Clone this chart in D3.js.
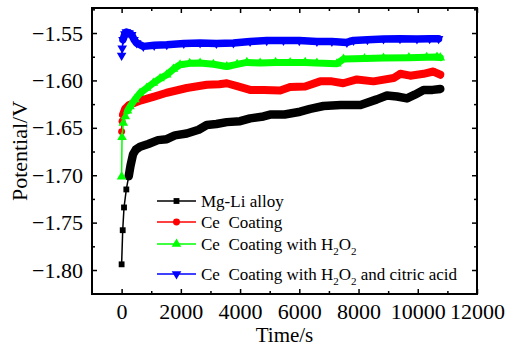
<!DOCTYPE html>
<html>
<head>
<meta charset="utf-8">
<script src="https://cdn.jsdelivr.net/npm/d3@7/dist/d3.min.js"></script>
<style>
	body { margin: 0; background: #fff; }
	svg text { font-family: "Liberation Serif", "Times New Roman", serif; fill: #000; }
</style>
</head>
<body>
<svg id="chart" width="506" height="356"></svg>
<script>
// data: [time s, potential V]
var alloyData = [[0, -1.794], [37, -1.758], [81, -1.734], [159, -1.715], [240, -1.701], [300, -1.690], [385, -1.678], [480, -1.673],
	[622, -1.670], [900, -1.667], [1230, -1.663], [1524, -1.662], [1800, -1.658], [2200, -1.656], [2600, -1.652], [2876, -1.647],
	[3200, -1.646], [3552, -1.644], [4000, -1.643], [4339, -1.640], [4789, -1.638], [5015, -1.636], [5500, -1.636], [6029, -1.633],
	[6367, -1.630], [6817, -1.627], [7400, -1.626], [8067, -1.626], [8621, -1.620], [8959, -1.616], [9300, -1.617], [9635, -1.619],
	[9900, -1.615], [10196, -1.610], [10500, -1.610], [10760, -1.609]];
var ceData = [[0, -1.654], [15, -1.643], [47, -1.636], [120, -1.630], [250, -1.626], [400, -1.624], [660, -1.621], [1100, -1.617],
	[1524, -1.613], [2200, -1.608], [2876, -1.6046], [3300, -1.604], [3552, -1.603], [3900, -1.606], [4339, -1.610], [4800, -1.610],
	[5353, -1.6106], [5690, -1.607], [6198, -1.6064], [6705, -1.601], [7100, -1.601], [7482, -1.603], [7945, -1.599], [8506, -1.601],
	[9182, -1.5975], [9409, -1.593], [9747, -1.595], [10196, -1.593], [10524, -1.5906], [10760, -1.594]];
var h2o2Data = [[0, -1.7015], [14, -1.660], [57, -1.645], [125, -1.638], [200, -1.632], [284, -1.6275], [450, -1.620], [622, -1.6134],
	[850, -1.608], [1071, -1.6028], [1300, -1.598], [1524, -1.594], [1750, -1.588], [1974, -1.5835], [2300, -1.582], [2650, -1.5817],
	[3100, -1.583], [3552, -1.5853], [3900, -1.583], [4228, -1.581], [4677, -1.5817], [5200, -1.581], [5690, -1.5811], [6200, -1.581],
	[6594, -1.5817], [7269, -1.5824], [7493, -1.5775], [8200, -1.577], [8844, -1.5764], [9700, -1.576], [10300, -1.5755], [10649, -1.5753],
	[10760, -1.576]];
var citricData = [[0, -1.5737], [20, -1.566], [47, -1.557], [110, -1.551], [159, -1.549], [250, -1.550], [341, -1.5518], [420, -1.557],
	[510, -1.5606], [733, -1.5641], [1100, -1.563], [1524, -1.5624], [2100, -1.561], [2650, -1.5606], [3200, -1.561], [3775, -1.5606],
	[4339, -1.5589], [4900, -1.558], [5465, -1.5578], [6000, -1.558], [6594, -1.5589], [7100, -1.559], [7607, -1.5599], [7831, -1.5578],
	[8300, -1.557], [8844, -1.5563], [9400, -1.556], [9973, -1.5563], [10400, -1.556], [10703, -1.556]];

var seriesLabels = ['Mg-Li alloy', 'Ce  Coating', 'Ce  Coating with H_2O_2', 'Ce  Coating with H_2O_2 and citric acid'];
var xTicks = [0, 2000, 4000, 6000, 8000, 10000, 12000];
var xMinor = [1000, 3000, 5000, 7000, 9000, 11000];
var yTicks = [-1.80, -1.75, -1.70, -1.65, -1.60, -1.55];
var yMinor = [-1.775, -1.725, -1.675, -1.625, -1.575, -1.525];

var series = [
	{ label: seriesLabels[0], data: alloyData, color: 'rgb(0,0,0)', symbol: d3.symbolSquare, size: 34, rot: 0, dense: 240, band: 8.5 },
	{ label: seriesLabels[1], data: ceData, color: 'rgb(255,0,0)', symbol: d3.symbolCircle, size: 38, rot: 0, dense: 47, band: 8 },
	{ label: seriesLabels[2], data: h2o2Data, color: 'rgb(0,255,0)', symbol: d3.symbolTriangle, size: 40, rot: 0, dense: 200, band: 7 },
	{ label: seriesLabels[3], data: citricData, color: 'rgb(0,0,255)', symbol: d3.symbolTriangle, size: 40, rot: 180, dense: 47, band: 7.5 }
];

var FONT = 'Liberation Serif';
var margin = { top: 8, right: 29, bottom: 62, left: 92 };
var W = 506, H = 356;
var w = W - margin.left - margin.right,
	h = H - margin.top - margin.bottom;

var svg = d3.select('#chart');
var g = svg.append('g').attr('transform', 'translate(' + margin.left + ',' + margin.top + ')');

var x = d3.scaleLinear().domain([-1000, 12000]).range([0, w]);
var y = d3.scaleLinear().domain([-1.8253, -1.5236]).range([h, 0]);

// series
series.forEach(function (s) {
	var line = d3.line().x(function (d) { return x(d[0]); }).y(function (d) { return y(d[1]); });

	g.append('path')
		.attr('d', line(s.data))
		.attr('fill', 'none')
		.attr('stroke', s.color)
		.attr('stroke-width', 1.5);

	g.append('path')
		.attr('d', line(s.data.filter(function (d) { return d[0] >= s.dense; })))
		.attr('fill', 'none')
		.attr('stroke', s.color)
		.attr('stroke-width', s.band)
		.attr('stroke-linejoin', 'round')
		.attr('stroke-linecap', 'round');

	g.selectAll(null)
		.data(s.data)
		.enter()
		.append('path')
		.attr('d', d3.symbol().type(s.symbol).size(s.size))
		.attr('transform', function (d) { return 'translate(' + x(d[0]) + ',' + y(d[1]) + ') rotate(' + s.rot + ')'; })
		.attr('fill', s.color);
});

// axes, ticks inward
function styleAxis(sel) {
	sel.attr('font-family', FONT).attr('font-size', 22);
	sel.select('.domain').remove();
	sel.selectAll('line').attr('stroke', '#000').attr('stroke-width', 1.5);
	sel.selectAll('text').attr('fill', '#000');
}

g.append('g').attr('transform', 'translate(0,' + h + ')')
	.call(d3.axisBottom(x).tickValues(xTicks).tickSize(-5).tickPadding(9).tickFormat(d3.format('d')))
	.call(styleAxis);
g.append('g').attr('transform', 'translate(0,' + h + ')')
	.call(d3.axisBottom(x).tickValues(xMinor).tickSize(-3).tickFormat(''))
	.call(styleAxis);
g.append('g')
	.call(d3.axisTop(x).tickValues(xTicks).tickSize(-5).tickFormat(''))
	.call(styleAxis);
g.append('g')
	.call(d3.axisTop(x).tickValues(xMinor).tickSize(-3).tickFormat(''))
	.call(styleAxis);

g.append('g')
	.call(d3.axisLeft(y).tickValues(yTicks).tickSize(-5).tickPadding(9).tickFormat(d3.format('.2f')))
	.call(styleAxis);
g.append('g')
	.call(d3.axisLeft(y).tickValues(yMinor).tickSize(-3).tickFormat(''))
	.call(styleAxis);
g.append('g').attr('transform', 'translate(' + w + ',0)')
	.call(d3.axisRight(y).tickValues(yTicks).tickSize(-5).tickFormat(''))
	.call(styleAxis);
g.append('g').attr('transform', 'translate(' + w + ',0)')
	.call(d3.axisRight(y).tickValues(yMinor).tickSize(-3).tickFormat(''))
	.call(styleAxis);

g.append('rect')
	.attr('x', 0)
	.attr('y', 0)
	.attr('width', w)
	.attr('height', h)
	.attr('fill', 'none')
	.attr('stroke', '#000')
	.attr('stroke-width', 2);

// axis titles
svg.append('text')
	.attr('x', margin.left + w / 2)
	.attr('y', 342)
	.attr('text-anchor', 'middle')
	.attr('font-family', FONT)
	.attr('font-size', 21)
	.text('Time/s');

svg.append('text')
	.attr('transform', 'translate(27,' + (margin.top + h / 2) + ') rotate(-90)')
	.attr('text-anchor', 'middle')
	.attr('font-family', FONT)
	.attr('font-size', 22)
	.text('Potential/V');

// legend
var legendY = [201, 222, 244, 274];
series.forEach(function (s, i) {
	var ly = legendY[i];
	svg.append('line')
		.attr('x1', 157)
		.attr('x2', 196)
		.attr('y1', ly)
		.attr('y2', ly)
		.attr('stroke', s.color)
		.attr('stroke-width', 1.5);
	svg.append('path')
		.attr('d', d3.symbol().type(s.symbol).size(s.size))
		.attr('transform', 'translate(176.5,' + ly + ') rotate(' + s.rot + ')')
		.attr('fill', s.color);

	var t = svg.append('text')
		.attr('x', 201)
		.attr('y', ly + 6)
		.attr('font-family', FONT)
		.attr('font-size', 17)
		.style('white-space', 'pre');
	var parts = s.label.split(/(_\d)/);
	var shift = 0;
	parts.forEach(function (p) {
		if (p === '') return;
		if (p[0] === '_') {
			t.append('tspan').attr('font-size', 11).attr('dy', 5 - shift).text(p.slice(1));
			shift = 5;
		} else {
			t.append('tspan').attr('dy', -shift).text(p);
			shift = 0;
		}
	});
});
</script>
</body>
</html>
